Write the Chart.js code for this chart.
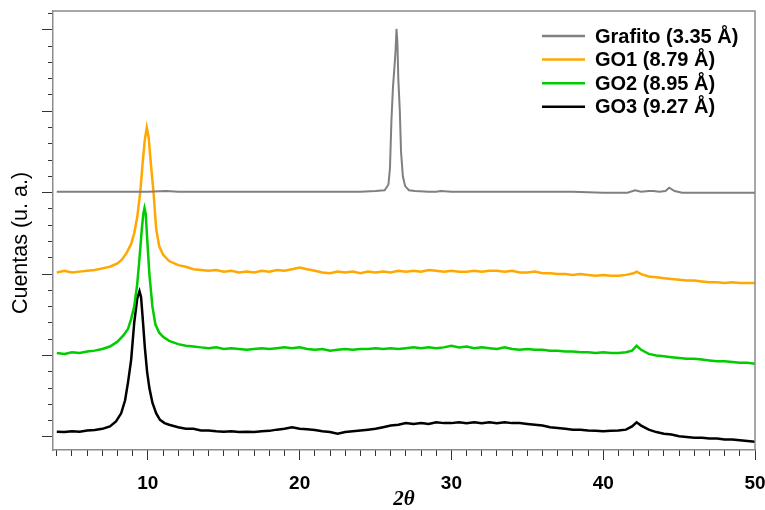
<!DOCTYPE html>
<html>
<head>
<meta charset="utf-8">
<title>XRD</title>
<script src="https://cdn.jsdelivr.net/npm/chart.js@4.4.0/dist/chart.umd.min.js"></script>
<style>
  html, body { margin: 0; padding: 0; background: #fff; }
</style>
</head>
<body>
<canvas id="xrd" width="765" height="510"></canvas>
<script>
// 2theta range and tick steps
const xRange = [3.75, 50];
const yRange = [-0.16, 5.23];
const xMajorStep = 10, xMinorStep = 1;
const yMajorStep = 1, yMinorStep = 0.2;

const seriesLabels = ['Grafito (3.35 Å)', 'GO1 (8.79 Å)', 'GO2 (8.95 Å)', 'GO3 (9.27 Å)'];
const seriesColors = ['rgb(128,128,128)', 'rgb(255,168,0)', 'rgb(0,204,0)', 'rgb(0,0,0)'];
const yTitle = 'Cuentas (u. a.)';
const xTitle = '2θ';

// [2theta, counts (offset, arbitrary units)]
const grafito = [
  [4, 3.01], [6, 3.01], [8, 3.01], [10, 3.01], [11.2, 3.02], [12, 3.01], [14, 3.01], [16, 3.01],
  [18, 3.01], [20, 3.01], [22, 3.01], [24, 3.01], [25, 3.02], [25.6, 3.03], [25.85, 3.1],
  [25.95, 3.3], [26.05, 3.9], [26.15, 4.3], [26.25, 4.55], [26.32, 4.75], [26.38, 5.01],
  [26.44, 4.85], [26.5, 4.4], [26.6, 4.0], [26.68, 3.5], [26.8, 3.2], [26.95, 3.08], [27.2, 3.03],
  [27.6, 3.02], [28.5, 3.01], [29, 3.01], [29.3, 3.02], [30, 3.01], [32, 3.01], [34, 3.01],
  [36, 3.01], [38, 3.01], [40, 3.0], [41.6, 3.0], [42.1, 3.03], [42.5, 3.01], [43, 3.02],
  [43.3, 3.02], [43.7, 3.01], [44.1, 3.02], [44.35, 3.06], [44.7, 3.02], [45.2, 3.0],
  [46, 3.0], [48, 3.0], [50, 3.0]
];

const go1 = [
  [4, 2.02], [4.5, 2.04], [5, 2.02], [5.5, 2.03], [6, 2.04], [6.5, 2.05], [7, 2.07], [7.5, 2.09],
  [8, 2.13], [8.3, 2.18], [8.6, 2.26], [8.9, 2.37], [9.1, 2.5], [9.3, 2.7], [9.5, 3.01],
  [9.65, 3.35], [9.8, 3.65], [9.93, 3.8], [10.05, 3.68], [10.2, 3.35], [10.37, 3.01],
  [10.55, 2.55], [10.75, 2.34], [11, 2.24], [11.4, 2.16], [12, 2.11], [12.5, 2.09], [13, 2.06],
  [13.5, 2.05], [14, 2.04], [14.5, 2.05], [15, 2.03], [15.5, 2.04], [16, 2.02], [16.5, 2.03],
  [17, 2.02], [17.5, 2.04], [18, 2.03], [18.5, 2.05], [19, 2.04], [19.5, 2.06], [20, 2.08],
  [20.5, 2.06], [21, 2.04], [21.5, 2.02], [22, 2.01], [22.5, 2.03], [23, 2.02], [23.5, 2.03],
  [24, 2.01], [24.5, 2.03], [25, 2.02], [25.5, 2.03], [26, 2.02], [26.5, 2.04], [27, 2.03],
  [27.5, 2.04], [28, 2.03], [28.5, 2.05], [29, 2.04], [29.5, 2.03], [30, 2.04], [30.5, 2.03],
  [31, 2.03], [31.5, 2.04], [32, 2.03], [32.5, 2.04], [33, 2.04], [33.5, 2.03], [34, 2.04],
  [34.5, 2.02], [35, 2.02], [35.5, 2.03], [36, 2.01], [36.5, 2.01], [37, 2.0], [37.5, 2.0],
  [38, 1.99], [38.5, 2.0], [39, 1.99], [39.5, 1.98], [40, 1.99], [40.5, 1.98], [41, 1.98],
  [41.5, 1.99], [42, 2.01], [42.2, 2.03], [42.5, 2.0], [43, 1.97], [43.5, 1.96], [44, 1.95],
  [44.5, 1.94], [45, 1.93], [45.5, 1.92], [46, 1.92], [46.5, 1.91], [47, 1.9], [47.5, 1.9],
  [48, 1.89], [48.5, 1.9], [49, 1.89], [49.5, 1.89], [50, 1.89]
];

const go2 = [
  [4, 1.03], [4.5, 1.02], [5, 1.04], [5.5, 1.03], [6, 1.05], [6.5, 1.06], [7, 1.08], [7.5, 1.11],
  [8, 1.17], [8.4, 1.25], [8.7, 1.33], [8.9, 1.45], [9.1, 1.6], [9.3, 1.88], [9.45, 2.2],
  [9.6, 2.55], [9.7, 2.74], [9.78, 2.81], [9.86, 2.74], [9.95, 2.45], [10.1, 2.0], [10.3, 1.6],
  [10.5, 1.38], [10.75, 1.28], [11, 1.23], [11.4, 1.18], [12, 1.14], [12.5, 1.12], [13, 1.11],
  [13.5, 1.1], [14, 1.09], [14.5, 1.1], [15, 1.08], [15.5, 1.09], [16, 1.08], [16.5, 1.07],
  [17, 1.08], [17.5, 1.09], [18, 1.08], [18.5, 1.09], [19, 1.1], [19.5, 1.09], [20, 1.1],
  [20.5, 1.08], [21, 1.07], [21.5, 1.08], [22, 1.06], [22.5, 1.07], [23, 1.08], [23.5, 1.07],
  [24, 1.08], [24.5, 1.08], [25, 1.09], [25.5, 1.08], [26, 1.09], [26.5, 1.08], [27, 1.09],
  [27.5, 1.1], [28, 1.09], [28.5, 1.1], [29, 1.09], [29.5, 1.1], [30, 1.12], [30.5, 1.1],
  [31, 1.11], [31.5, 1.09], [32, 1.1], [32.5, 1.09], [33, 1.08], [33.5, 1.1], [34, 1.08],
  [34.5, 1.07], [35, 1.08], [35.5, 1.07], [36, 1.07], [36.5, 1.06], [37, 1.06], [37.5, 1.05],
  [38, 1.05], [38.5, 1.04], [39, 1.04], [39.5, 1.03], [40, 1.04], [40.5, 1.03], [41, 1.03],
  [41.5, 1.04], [41.9, 1.06], [42.2, 1.12], [42.5, 1.07], [43, 1.02], [43.5, 1.0], [44, 0.99],
  [44.5, 0.98], [45, 0.97], [45.5, 0.96], [46, 0.96], [46.5, 0.95], [47, 0.94], [47.5, 0.93],
  [48, 0.93], [48.5, 0.92], [49, 0.91], [49.5, 0.91], [50, 0.9]
];

const go3 = [
  [4, 0.065], [4.5, 0.06], [5, 0.07], [5.5, 0.065], [6, 0.08], [6.5, 0.085], [7, 0.1], [7.5, 0.13],
  [7.9, 0.19], [8.24, 0.29], [8.5, 0.45], [8.7, 0.68], [8.9, 0.95], [9.1, 1.4], [9.3, 1.7],
  [9.45, 1.79], [9.55, 1.72], [9.66, 1.46], [9.8, 1.1], [9.95, 0.8], [10.1, 0.6], [10.3, 0.42],
  [10.55, 0.29], [10.8, 0.21], [11.1, 0.17], [11.4, 0.15], [12, 0.12], [12.5, 0.1], [13, 0.1],
  [13.5, 0.08], [14, 0.08], [14.5, 0.07], [15, 0.065], [15.5, 0.07], [16, 0.06], [16.5, 0.065],
  [17, 0.06], [17.5, 0.07], [18, 0.075], [18.5, 0.09], [19, 0.1], [19.5, 0.12], [20, 0.1],
  [20.5, 0.095], [21, 0.085], [21.5, 0.07], [22, 0.06], [22.5, 0.04], [23, 0.06], [23.5, 0.07],
  [24, 0.08], [24.5, 0.09], [25, 0.1], [25.5, 0.12], [26, 0.14], [26.5, 0.15], [27, 0.17],
  [27.5, 0.16], [28, 0.17], [28.5, 0.16], [29, 0.18], [29.5, 0.17], [30, 0.17], [30.5, 0.18],
  [31, 0.17], [31.5, 0.18], [32, 0.17], [32.5, 0.18], [33, 0.17], [33.5, 0.18], [34, 0.17],
  [34.5, 0.17], [35, 0.16], [35.5, 0.15], [36, 0.14], [36.5, 0.12], [37, 0.11], [37.5, 0.1],
  [38, 0.09], [38.5, 0.09], [39, 0.08], [39.5, 0.075], [40, 0.07], [40.5, 0.075], [41, 0.08],
  [41.5, 0.09], [41.9, 0.13], [42.2, 0.18], [42.5, 0.14], [43, 0.09], [43.5, 0.06], [44, 0.04],
  [44.5, 0.03], [45, 0.01], [45.5, 0.0], [46, -0.01], [46.5, -0.01], [47, -0.02], [47.5, -0.02],
  [48, -0.03], [48.5, -0.03], [49, -0.04], [49.5, -0.05], [50, -0.06]
];

const sansFont = '"Liberation Sans", Arial, Helvetica, sans-serif';
const tickColor = '#333';
const frameColor = '#8c8c8c';

function toPoints(rows) {
  return rows.map(r => ({ x: r[0], y: r[1] }));
}

const seriesData = [grafito, go1, go2, go3];
const widths = [2, 2.5, 2.5, 2.5];

// fixed axis box sizes, no extra room for the end labels
function fixHeight(h) {
  return s => { s.height = h; s.paddingLeft = 0; s.paddingRight = 0; };
}
function fixWidth(w) {
  return s => { s.width = w; s.paddingTop = 0; s.paddingBottom = 0; };
}

// top/right frame, rotated y title and the legend box
const decor = {
  id: 'decor',
  afterDraw(chart) {
    const { ctx, chartArea: a } = chart;
    ctx.save();
    ctx.strokeStyle = frameColor;
    ctx.lineWidth = 1.5;
    ctx.beginPath();
    ctx.moveTo(a.left, a.top);
    ctx.lineTo(a.right, a.top);
    ctx.lineTo(a.right, a.bottom);
    ctx.stroke();

    ctx.fillStyle = '#000';
    ctx.font = '21.5px ' + sansFont;
    ctx.textAlign = 'center';
    ctx.textBaseline = 'middle';
    ctx.translate(21, 243);
    ctx.rotate(-Math.PI / 2);
    ctx.fillText(yTitle, 0, 0);
    ctx.restore();

    ctx.save();
    ctx.font = 'bold 20px ' + sansFont;
    ctx.textAlign = 'left';
    ctx.textBaseline = 'middle';
    chart.data.datasets.forEach((ds, i) => {
      const y = 36 + i * 23.6;
      ctx.strokeStyle = ds.borderColor;
      ctx.lineWidth = 2.5;
      ctx.beginPath();
      ctx.moveTo(542, y);
      ctx.lineTo(585, y);
      ctx.stroke();
      ctx.fillStyle = '#000';
      ctx.fillText(ds.label, 595, y + 1);
    });
    ctx.restore();
  }
};

new Chart(document.getElementById('xrd'), {
  type: 'line',
  data: {
    datasets: seriesData.map((rows, i) => ({
      label: seriesLabels[i],
      data: toPoints(rows),
      borderColor: seriesColors[i],
      backgroundColor: seriesColors[i],
      borderWidth: widths[i],
      pointRadius: 0,
      tension: 0,
      fill: false
    }))
  },
  options: {
    responsive: false,
    animation: false,
    layout: { padding: { top: 11, right: 10, left: 0, bottom: 0 } },
    plugins: {
      legend: { display: false },
      tooltip: { enabled: false }
    },
    scales: {
      x: {
        type: 'linear',
        position: 'bottom',
        weight: 1,
        min: xRange[0],
        max: xRange[1],
        afterFit: fixHeight(60),
        border: { display: true, color: frameColor, width: 1.5 },
        grid: { drawOnChartArea: false, tickLength: 10, color: tickColor, lineWidth: 1 },
        ticks: {
          stepSize: xMajorStep,
          includeBounds: false,
          maxRotation: 0,
          color: '#000',
          padding: 12,
          font: { family: sansFont, size: 19, weight: 'bold' }
        },
        title: {
          display: true,
          text: xTitle,
          color: '#000',
          padding: { top: 0, bottom: 0 },
          font: { family: '"Liberation Serif", "Times New Roman", serif', size: 21, style: 'italic', weight: 'bold', lineHeight: 1 }
        }
      },
      xMinor: {
        type: 'linear',
        position: 'bottom',
        weight: 0,
        min: xRange[0],
        max: xRange[1],
        afterFit: fixHeight(0),
        border: { display: false },
        grid: { drawOnChartArea: false, tickLength: 6, color: tickColor, lineWidth: 1 },
        ticks: { stepSize: xMinorStep, includeBounds: false, display: false }
      },
      y: {
        type: 'linear',
        position: 'left',
        weight: 1,
        min: yRange[0],
        max: yRange[1],
        afterFit: fixWidth(53),
        border: { display: true, color: frameColor, width: 1.5 },
        grid: { drawOnChartArea: false, tickLength: 11, color: tickColor, lineWidth: 1 },
        ticks: { stepSize: yMajorStep, includeBounds: false, display: false }
      },
      yMinor: {
        type: 'linear',
        position: 'left',
        weight: 0,
        min: yRange[0],
        max: yRange[1],
        afterFit: fixWidth(0),
        border: { display: false },
        grid: { drawOnChartArea: false, tickLength: 5, color: tickColor, lineWidth: 1 },
        ticks: { stepSize: yMinorStep, includeBounds: false, display: false }
      }
    }
  },
  plugins: [decor]
});
</script>
</body>
</html>
